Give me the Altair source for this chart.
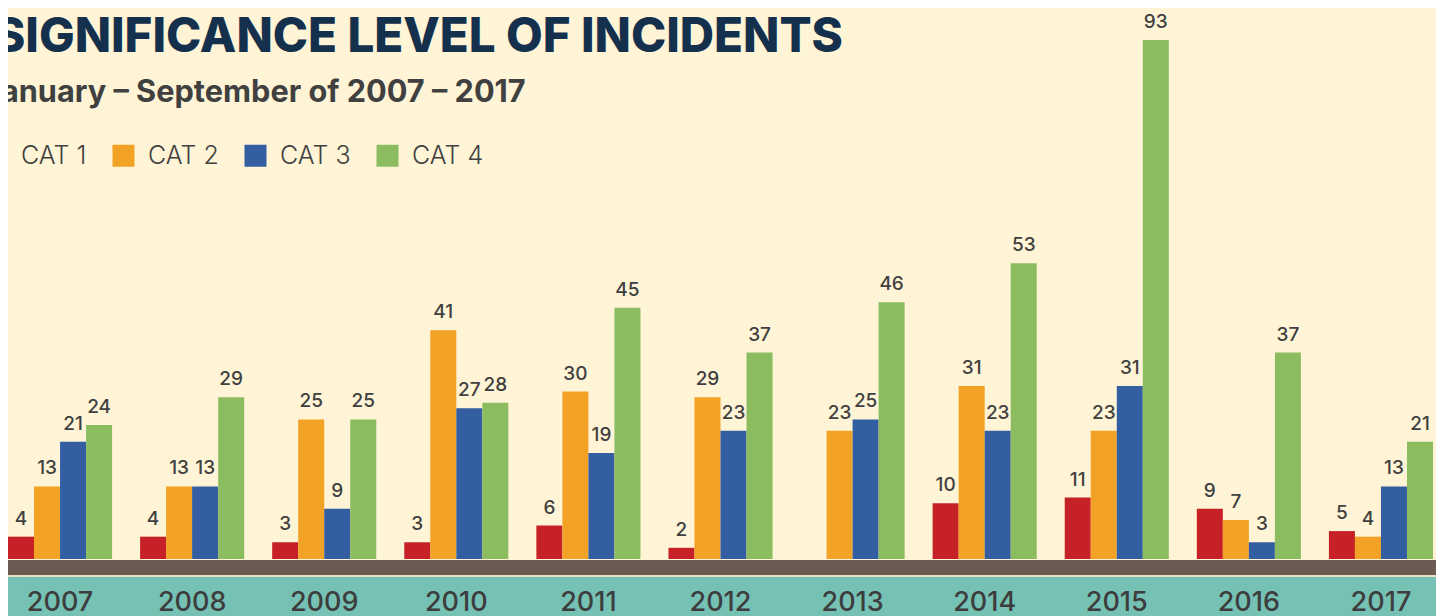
import altair as alt
import pandas as pd

years = ["2007", "2008", "2009", "2010", "2011", "2012", "2013", "2014", "2015", "2016", "2017"]
categories = ["CAT 1", "CAT 2", "CAT 3", "CAT 4"]
cat1 = [4, 4, 3, 3, 6, 2, 0, 10, 11, 9, 5]
cat2 = [13, 13, 25, 41, 30, 29, 23, 31, 23, 7, 4]
cat3 = [21, 13, 9, 27, 19, 23, 25, 23, 31, 3, 13]
cat4 = [24, 29, 25, 28, 45, 37, 46, 53, 93, 37, 21]
colors = ["#C62127", "#F2A225", "#335EA1", "#8BBD60"]

title_text = "SIGNIFICANCE LEVEL OF INCIDENTS"
subtitle_text = "January \u2013 September of 2007 \u2013 2017"

rows = []
for series, vals in zip(categories, [cat1, cat2, cat3, cat4]):
    for y, v in zip(years, vals):
        rows.append({"year": y, "cat": series, "value": v})
df = pd.DataFrame(rows)
df_lab = df[df["value"] > 0].copy()
df_years = pd.DataFrame({"year": years})

W, H = 1428, 608
BG = "#FFF4D6"

xscale = alt.Scale(domain=years, range=[0, 1425], paddingInner=0.212, paddingOuter=0)
yscale = alt.Scale(domain=[0, 98.73], range=[551, 0], nice=False, zero=True)
oscale = alt.Scale(domain=categories, paddingInner=0, paddingOuter=0)
cscale = alt.Scale(domain=categories, range=colors)

bars = alt.Chart(df).mark_bar(clip=False).encode(
    x=alt.X("year:N", scale=xscale, axis=None),
    xOffset=alt.XOffset("cat:N", scale=oscale),
    y=alt.Y("value:Q", scale=yscale, axis=None),
    color=alt.Color(
        "cat:N", scale=cscale,
        legend=alt.Legend(
            orient="none", legendX=-24, legendY=135, direction="horizontal",
            title=None, symbolType="square", symbolSize=484, symbolStrokeWidth=0,
            symbolOpacity=1, labelFontSize=25, labelFont="Inter", labelFontWeight=300,
            labelColor="#404040", labelOffset=12, columnPadding=24, labelLimit=200,
        ),
    ),
)

labels = alt.Chart(df_lab).mark_text(
    baseline="alphabetic", dy=-12, fontSize=19, font="Inter", fontWeight=500,
    color="#404040",
).encode(
    x=alt.X("year:N", scale=xscale, axis=None),
    xOffset=alt.XOffset("cat:N", scale=oscale),
    y=alt.Y("value:Q", scale=yscale, axis=None),
    text="value:Q",
)

band_brown = alt.Chart(df_years.head(1)).mark_rect(color="#6B5B52").encode(
    x=alt.value(-10), x2=alt.value(W + 10), y=alt.value(552), y2=alt.value(567)
)
band_line = alt.Chart(df_years.head(1)).mark_rect(color="#EADFC4").encode(
    x=alt.value(-10), x2=alt.value(W + 10), y=alt.value(567), y2=alt.value(569)
)
band_teal = alt.Chart(df_years.head(1)).mark_rect(color="#75C2B5").encode(
    x=alt.value(-10), x2=alt.value(W + 10), y=alt.value(569), y2=alt.value(H + 10)
)

year_text = alt.Chart(df_years).mark_text(
    baseline="alphabetic", fontSize=27, font="Inter", fontWeight=500, color="#3D3D3D"
).encode(
    x=alt.X("year:N", scale=xscale, axis=None),
    y=alt.value(603),
    text="year:N",
)

title = alt.Chart(df_years.head(1)).mark_text(
    align="left", baseline="alphabetic", fontSize=47.5, font="Inter", fontWeight=800,
    color="#14304D", text=title_text,
).encode(x=alt.value(-14), y=alt.value(44))

subtitle = alt.Chart(df_years.head(1)).mark_text(
    align="left", baseline="alphabetic", fontSize=30.7, font="Inter", fontWeight=700,
    color="#404040", text=subtitle_text,
).encode(x=alt.value(-25), y=alt.value(94))

chart = alt.layer(
    band_brown, band_line, band_teal, bars, labels, year_text, title, subtitle
).properties(
    width=W, height=H, background=BG, padding=0,
    autosize=alt.AutoSizeParams(type="none"),
).configure_view(stroke=None)

chart.save("out.html", embed_options={"renderer": "svg", "actions": False})
